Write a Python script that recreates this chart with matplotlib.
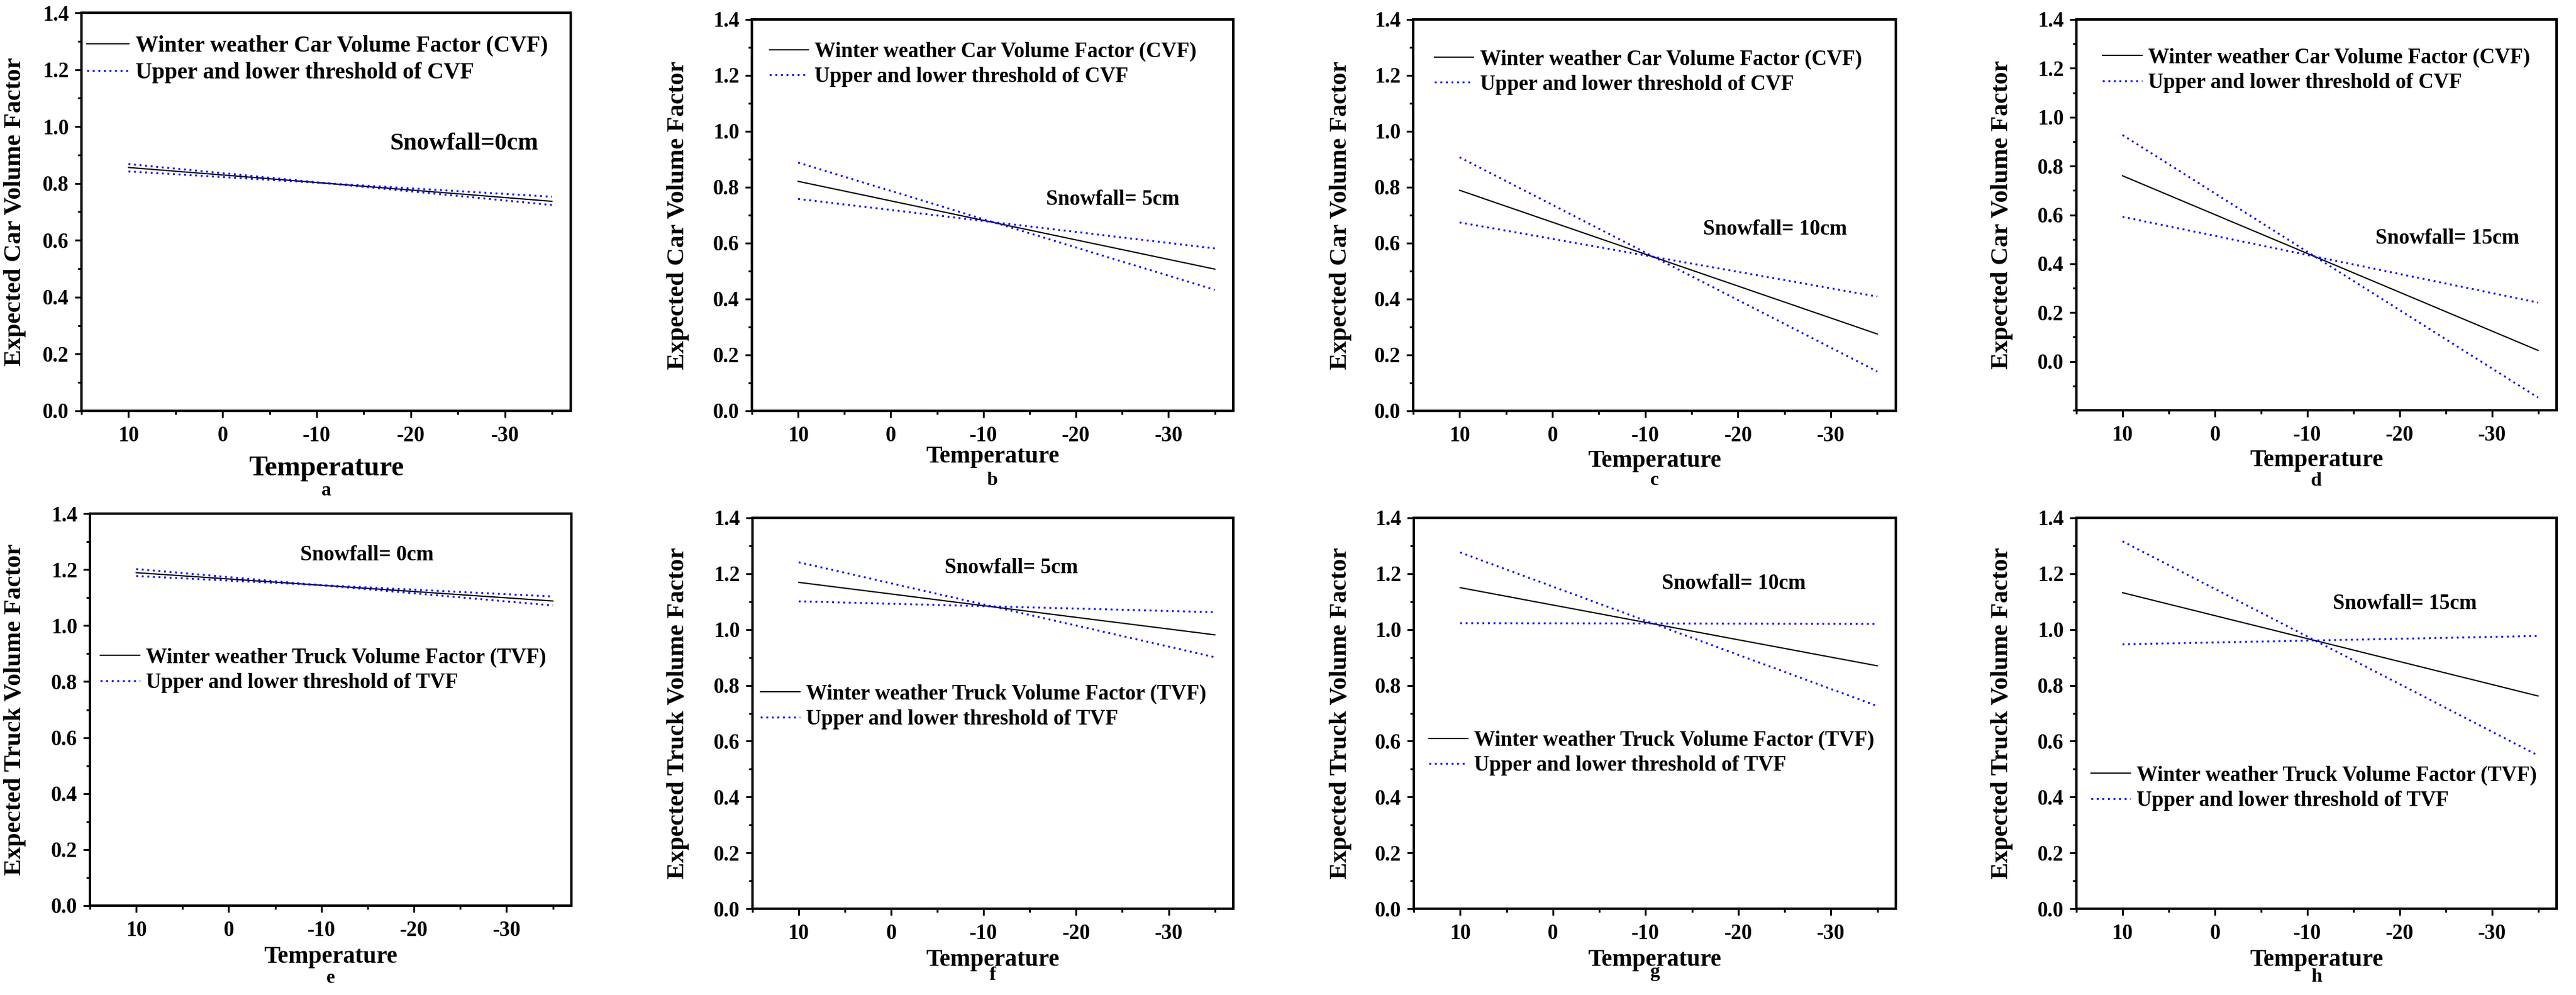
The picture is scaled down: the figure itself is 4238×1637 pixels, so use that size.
import numpy as np
import matplotlib.pyplot as plt
from matplotlib.ticker import MultipleLocator, FixedLocator

plt.rcParams['font.family'] = ['Liberation Serif', 'DejaVu Serif']
plt.rcParams['font.weight'] = 'bold'
plt.rcParams['axes.labelweight'] = 'bold'
plt.rcParams['axes.unicode_minus'] = False

W, H = 4238, 1637

# temperature end points of every line
temps = [10, -35]

# car volume factor, one pair per snowfall level (0, 5, 10, 15 cm)
cvf = [[0.856, 0.737], [0.821, 0.507], [0.789, 0.275], [0.760, 0.045]]
cvf_steep = [[0.868, 0.724], [0.888, 0.433], [0.907, 0.141], [0.927, -0.148]]
cvf_flat = [[0.842, 0.753], [0.758, 0.581], [0.674, 0.409], [0.592, 0.241]]

# truck volume factor
tvf = [[1.189, 1.088], [1.169, 0.981], [1.150, 0.870], [1.132, 0.762]]
tvf_steep = [[1.202, 1.072], [1.241, 0.901], [1.276, 0.726], [1.316, 0.549]]
tvf_flat = [[1.177, 1.104], [1.101, 1.062], [1.023, 1.020], [0.947, 0.977]]

snow_text = ['Snowfall=0cm', 'Snowfall= 5cm', 'Snowfall= 10cm', 'Snowfall= 15cm',
             'Snowfall= 0cm', 'Snowfall= 5cm', 'Snowfall= 10cm', 'Snowfall= 15cm']
snow_xy = [(-25.7, 0.94), (-24.0, 0.755), (-24.0, 0.65), (-25.2, 0.503),
           (-14.9, 1.251), (-13.0, 1.22), (-19.5, 1.163), (-20.6, 1.092)]
letters = ['a', 'b', 'c', 'd', 'e', 'f', 'g', 'h']

# axes boxes in pixels: left, top, right, bottom
boxes = [(134, 21, 939, 676), (1237, 32, 2029, 676), (2325, 32, 3119, 676), (3416, 32, 4206, 675),
         (148, 845, 940, 1490), (1238, 852, 2029, 1495), (2326, 852, 3119, 1495), (3416, 852, 4206, 1495)]
leg_xy = [(0.011, 0.883), (0.036, 0.885), (0.044, 0.866), (0.055, 0.870),
          (0.022, 0.601), (0.017, 0.517), (0.031, 0.398), (0.031, 0.309)]
ylabel_x = [25, 1116, 2205, 3293, 25, 1116, 2205, 3293]
xlabel_y = [782, 761, 768, 767, 1584, 1589, 1589, 1589]
letter_y = [815, 798, 798, 799, 1617, 1612, 1607, 1615]

fig = plt.figure(figsize=(W / 100, H / 100), dpi=100)

for i in range(8):
    l, t, r, b = boxes[i]
    ax = fig.add_axes([l / W, 1 - b / H, (r - l) / W, (b - t) / H])
    k = i % 4
    if i < 4:
        main, steep, flat = cvf[k], cvf_steep[k], cvf_flat[k]
        name = 'Car'
        short = 'CVF'
    else:
        main, steep, flat = tvf[k], tvf_steep[k], tvf_flat[k]
        name = 'Truck'
        short = 'TVF'

    ax.plot(temps, main, color='black', lw=1.5,
            label='Winter weather %s Volume Factor (%s)' % (name, short))
    ax.plot(temps, steep, color='blue', lw=2.2, ls=(0, (1, 2)),
            label='Upper and lower threshold of %s' % short)
    ax.plot(temps, flat, color='blue', lw=2.2, ls=(0, (1, 2)))

    ax.set_xlim(15, -37)
    if i == 3:
        ax.set_ylim(-0.2, 1.4)
    else:
        ax.set_ylim(0, 1.4)
    ax.xaxis.set_major_locator(FixedLocator([10, 0, -10, -20, -30]))
    ax.xaxis.set_minor_locator(MultipleLocator(5))
    ax.yaxis.set_major_locator(FixedLocator([0.0, 0.2, 0.4, 0.6, 0.8, 1.0, 1.2, 1.4]))
    ax.yaxis.set_minor_locator(MultipleLocator(0.1))
    ax.set_yticklabels(['0.0', '0.2', '0.4', '0.6', '0.8', '1.0', '1.2', '1.4'])

    for sp in ax.spines.values():
        sp.set_linewidth(2.9)
    ax.tick_params(which='major', direction='out', length=8, width=2.2, labelsize=25)
    ax.tick_params(which='minor', direction='out', length=4.5, width=2.2)
    ax.tick_params(axis='y', pad=7)
    ax.tick_params(axis='x', pad=10)

    fs_leg = 27 if i == 0 else 25
    ax.legend(loc='center left', bbox_to_anchor=leg_xy[i], frameon=False,
              fontsize=fs_leg, borderpad=0, borderaxespad=0,
              handlelength=1.85, handletextpad=0.3, labelspacing=0.25)

    fs_snow = 29 if i == 0 else 25
    ax.text(snow_xy[i][0], snow_xy[i][1], snow_text[i], fontsize=fs_snow,
            ha='center', va='center')

    cx = (l + r) / 2 / W
    fig.text(ylabel_x[i] / W, 1 - (t + b) / 2 / H,
             'Expected %s Volume Factor' % name, rotation=90,
             ha='center', va='center', fontsize=29.5)
    fs_xl = 33 if i == 0 else 28.5
    fig.text(cx, 1 - xlabel_y[i] / H, 'Temperature', ha='center', va='baseline', fontsize=fs_xl)
    fig.text(cx, 1 - letter_y[i] / H, letters[i], ha='center', va='baseline', fontsize=23)

fig.savefig('out.png', dpi=100)
